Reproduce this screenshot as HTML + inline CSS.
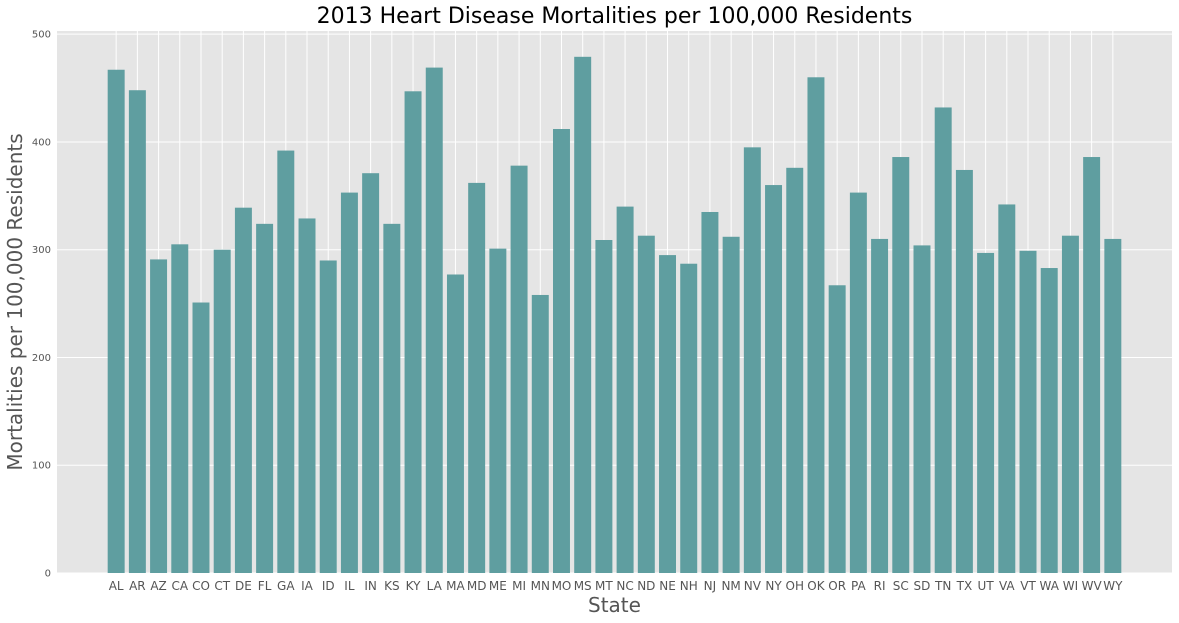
<!DOCTYPE html>
<html><head><meta charset="utf-8"><style>
body{margin:0;background:#fff;font-family:"DejaVu Sans","Liberation Sans",sans-serif}
svg{display:block;font-family:"DejaVu Sans","Liberation Sans",sans-serif}
</style></head><body>
<svg id="chart" width="1179" height="623" xmlns="http://www.w3.org/2000/svg"></svg>
<script>
const states=["AL","AR","AZ","CA","CO","CT","DE","FL","GA","IA","ID","IL","IN","KS","KY","LA","MA","MD","ME","MI","MN","MO","MS","MT","NC","ND","NE","NH","NJ","NM","NV","NY","OH","OK","OR","PA","RI","SC","SD","TN","TX","UT","VA","VT","WA","WI","WV","WY"];
const values=[467,448,291,305,251,300,339,324,392,329,290,353,371,324,447,469,277,362,301,378,258,412,479,309,340,313,295,287,335,312,395,360,376,460,267,353,310,386,304,432,374,297,342,299,283,313,386,310];
const yTicks=[0,100,200,300,400,500];
const NS="http://www.w3.org/2000/svg";
const svg=document.getElementById('chart');
const L=57,R=1172,T=31,B=573;
const n=states.length;
const xmin=-0.4-0.05*(n-1+0.8),xmax=n-1+0.4+0.05*(n-1+0.8);
const ymax=Math.max(...values)*1.05;
const x=i=>L+(i-xmin)/(xmax-xmin)*(R-L);
const y=v=>B-v/ymax*(B-T);
function mk(tag,attrs,parent){const e=document.createElementNS(NS,tag);for(const k in attrs)e.setAttribute(k,attrs[k]);(parent||svg).appendChild(e);return e;}
const bg=mk('rect',{x:L,y:T,width:R-L,height:B-T,fill:'#E5E5E5'});


yTicks.forEach(t=>{
 const g=mk('line',{x1:L,x2:R,y1:y(t),y2:y(t),stroke:'#fff','stroke-width':1});
 
 
 const tx=mk('text',{x:L-6,y:y(t)+3.5,'text-anchor':'end','font-size':10,fill:'#555'});
 tx.textContent=t;
 
 
});
states.forEach((s,i)=>{
 const g=mk('line',{x1:x(i),x2:x(i),y1:T,y2:B,stroke:'#fff','stroke-width':1});
 
 
});
const w=(x(1)-x(0))*0.8;
states.forEach((s,i)=>{
 const r=mk('rect',{x:x(i)-w/2,y:y(values[i]),width:w,height:B-y(values[i]),fill:'#5F9EA0'});
 
 
 const tx=mk('text',{x:x(i),y:B+17,'text-anchor':'middle','font-size':12,fill:'#555'});
 tx.textContent=s;
 
 
});
const title=mk('text',{x:(L+R)/2,y:23,'text-anchor':'middle','font-size':22,fill:'#000'});
title.textContent='2013 Heart Disease Mortalities per 100,000 Residents';


const xl=mk('text',{x:(L+R)/2,y:612,'text-anchor':'middle','font-size':20,fill:'#555'});
xl.textContent='State';


const yl=mk('text',{x:0,y:0,'text-anchor':'middle','font-size':20,fill:'#555',transform:`translate(22,${(T+B)/2}) rotate(-90)`});
yl.textContent='Mortalities per 100,000 Residents';


</script>
</body></html>
